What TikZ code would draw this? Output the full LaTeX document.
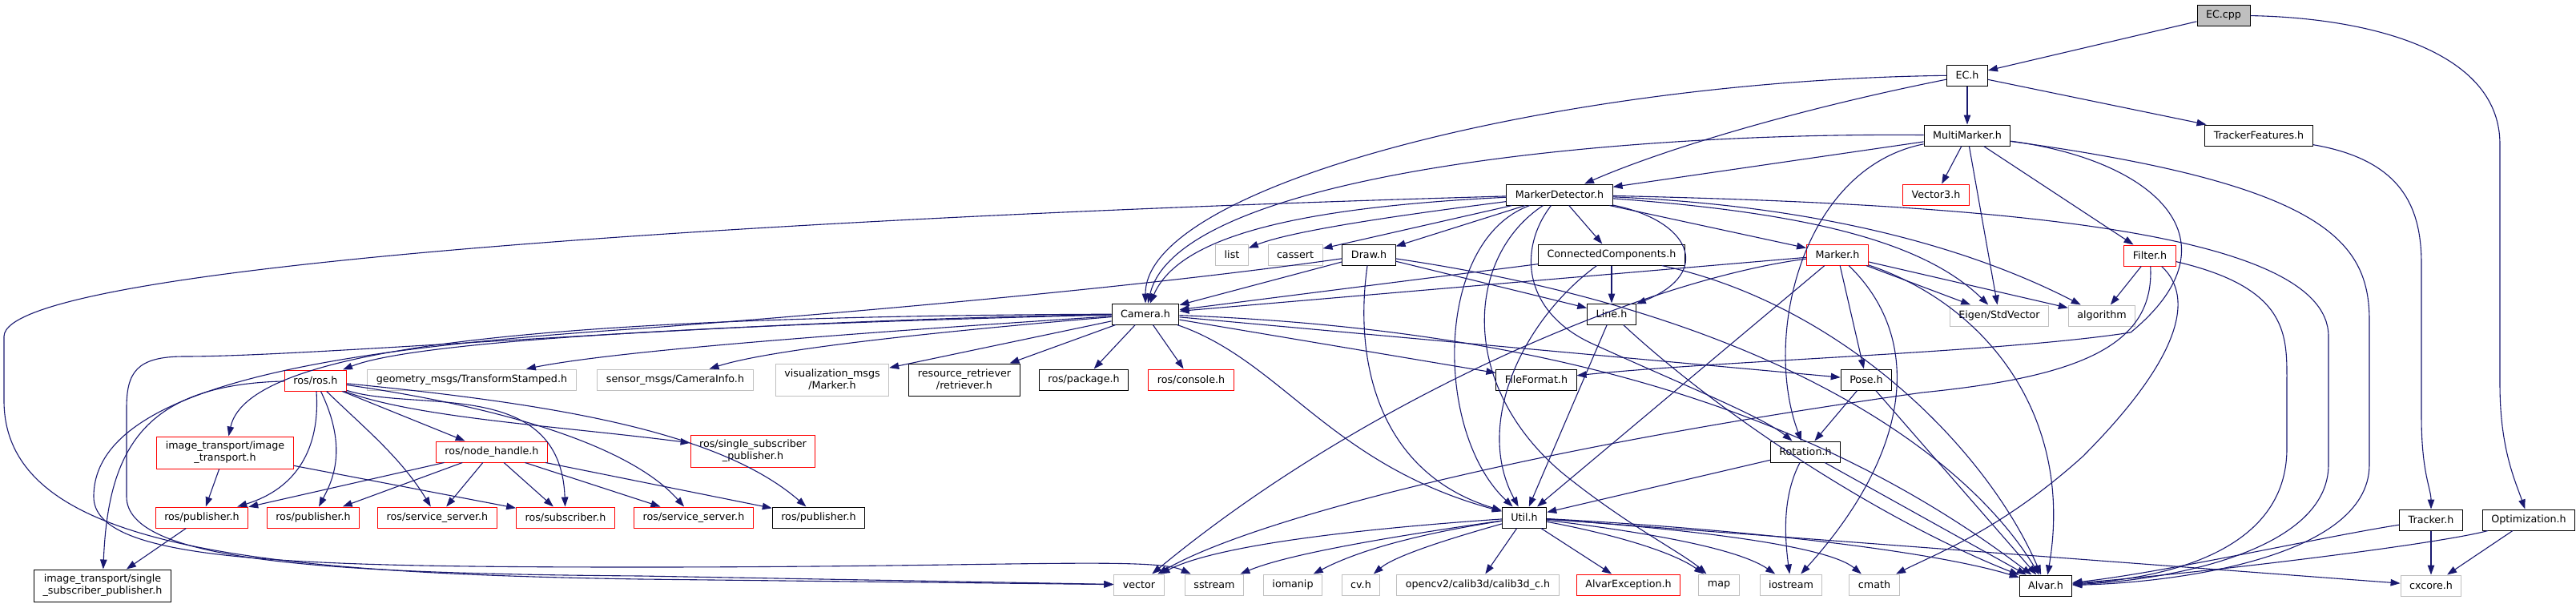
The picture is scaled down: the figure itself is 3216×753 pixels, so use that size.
\documentclass[tikz,border=0pt]{standalone}
\usepackage{fontspec}
\setmainfont{DejaVu Sans}
\usetikzlibrary{arrows.meta}
\definecolor{edgeblue}{HTML}{191970}
\definecolor{grey75}{HTML}{BFBFBF}
\newcommand{\hdrfont}{\fontsize{12.7}{15}\selectfont}

\begin{document}
\begin{tikzpicture}[x=1pt,y=-1pt,
  hdrbox/.style={draw=black,fill=white,line width=1pt,inner xsep=11pt,inner ysep=0pt,minimum height=26pt,font=\hdrfont},
  redbox/.style={hdrbox,draw=red},
  sysbox/.style={hdrbox,draw=grey75},
  twoline/.style={minimum height=40pt,align=center},
  dep/.style={draw=edgeblue,line width=1.1pt,-{Triangle[length=12pt,width=8.5pt]}}]

\useasboundingbox (0,0) rectangle (3216,753);

% files
\node[hdrbox,fill=grey75] (eccpp) at (2776,19) {EC.cpp};
\node[hdrbox] (ech) at (2456,94) {EC.h};
\node[hdrbox] (multimarker) at (2456,169) {MultiMarker.h};
\node[hdrbox] (trackerfeat) at (2820,169) {TrackerFeatures.h};
\node[hdrbox] (markerdet) at (1947,243) {MarkerDetector.h};
\node[redbox] (vector3) at (2417,243) {Vector3.h};
\node[sysbox] (list) at (1538,318) {list};
\node[sysbox] (cassert) at (1617,318) {cassert};
\node[hdrbox] (draw) at (1709,318) {Draw.h};
\node[hdrbox] (conncomp) at (2012,318) {ConnectedComponents.h};
\node[redbox] (marker) at (2294,318) {Marker.h};
\node[redbox] (filter) at (2684,319) {Filter.h};
\node[hdrbox] (camera) at (1430,392) {Camera.h};
\node[hdrbox] (line) at (2012,392) {Line.h};
\node[sysbox] (eigen) at (2496,394) {Eigen/StdVector};
\node[sysbox] (algorithm) at (2624,394) {algorithm};
\node[redbox] (rosros) at (394,475) {ros/ros.h};
\node[sysbox] (geometry) at (589,474) {geometry\_msgs/TransformStamped.h};
\node[sysbox] (sensor) at (843,474) {sensor\_msgs/CameraInfo.h};
\node[sysbox,twoline] (vismarker) at (1039,474) {visualization\_msgs\\/Marker.h};
\node[hdrbox,twoline] (retriever) at (1204,474) {resource\_retriever\\/retriever.h};
\node[hdrbox] (package) at (1353,474) {ros/package.h};
\node[redbox] (console) at (1487,474) {ros/console.h};
\node[hdrbox] (fileformat) at (1918,474) {FileFormat.h};
\node[hdrbox] (pose) at (2330,474) {Pose.h};
\node[redbox,twoline] (imgtransport) at (281,565) {image\_transport/image\\\_transport.h};
\node[redbox] (nodehandle) at (614,564) {ros/node\_handle.h};
\node[redbox,twoline] (singlesub) at (940,563) {ros/single\_subscriber\\\_publisher.h};
\node[hdrbox] (rotation) at (2254,564) {Rotation.h};
\node[redbox] (pubA) at (252,646) {ros/publisher.h};
\node[redbox] (pubB) at (391,646) {ros/publisher.h};
\node[redbox] (servA) at (546,646) {ros/service\_server.h};
\node[redbox] (subscriber) at (706,646) {ros/subscriber.h};
\node[redbox] (servB) at (866,646) {ros/service\_server.h};
\node[hdrbox] (pubC) at (1022,646) {ros/publisher.h};
\node[hdrbox] (util) at (1903,646) {Util.h};
\node[hdrbox] (tracker) at (3035,649) {Tracker.h};
\node[hdrbox] (optim) at (3157,649) {Optimization.h};
\node[hdrbox,twoline] (imgsingle) at (128,731) {image\_transport/single\\\_subscriber\_publisher.h};
\node[sysbox] (vector) at (1422,730) {vector};
\node[sysbox] (sstream) at (1516,730) {sstream};
\node[sysbox] (iomanip) at (1614,730) {iomanip};
\node[sysbox] (cvh) at (1699,730) {cv.h};
\node[sysbox] (calib) at (1845,730) {opencv2/calib3d/calib3d\_c.h};
\node[redbox] (alvarexc) at (2033,730) {AlvarException.h};
\node[sysbox] (map) at (2146,730) {map};
\node[sysbox] (iostream) at (2236,730) {iostream};
\node[sysbox] (cmath) at (2340,730) {cmath};
\node[hdrbox] (alvar) at (2554,731) {Alvar.h};
\node[sysbox] (cxcore) at (3035,731) {cxcore.h};

% includes
\draw[dep] (eccpp) -- (ech);
\draw[dep] (eccpp) .. controls (2950,22) and (3121,60) .. (3121,180) -- (3121,480) .. controls (3121,560) and (3140,600) .. (optim);
\draw[dep] (ech) -- (multimarker);
\draw[dep] (ech) -- (trackerfeat);
\draw[dep] (ech) .. controls (2250,135) and (2080,185) .. (markerdet);
\draw[dep] (ech) .. controls (1950,100) and (1430,230) .. (camera);
\draw[dep] (multimarker) -- (markerdet);
\draw[dep] (multimarker) .. controls (2000,165) and (1470,220) .. (camera);
\draw[dep] (multimarker) .. controls (2250,210) and (2200,420) .. (rotation);
\draw[dep] (multimarker) -- (vector3);
\draw[dep] (multimarker) -- (eigen);
\draw[dep] (multimarker) -- (filter);
\draw[dep] (multimarker) .. controls (2900,230) and (2958,300) .. (2958,400) -- (2958,580) .. controls (2958,700) and (2700,728) .. (alvar);
\draw[dep] (multimarker) .. controls (2690,200) and (2800,300) .. (2660,415) .. controls (2500,440) and (2150,450) .. (fileformat);
\draw[dep] (trackerfeat) .. controls (3000,200) and (3023,260) .. (3023,330) -- (3023,520) .. controls (3023,590) and (3035,610) .. (tracker);
\draw[dep] (markerdet) .. controls (1000,270) and (5,330) .. (5,420) -- (5,500) .. controls (5,680) and (300,715) .. (800,723) -- (vector);
\draw[dep] (markerdet) .. controls (1600,260) and (1470,300) .. (camera);
\draw[dep] (markerdet) .. controls (1800,262) and (1620,285) .. (list);
\draw[dep] (markerdet) -- (cassert);
\draw[dep] (markerdet) -- (draw);
\draw[dep] (markerdet) -- (conncomp);
\draw[dep] (markerdet) -- (marker);
\draw[dep] (markerdet) .. controls (2110,275) and (2140,340) .. (line);
\draw[dep] (markerdet) .. controls (1790,300) and (1790,540) .. (util);
\draw[dep] (markerdet) .. controls (1830,320) and (1820,480) .. (1950,590) .. controls (2030,655) and (2100,690) .. (map);
\draw[dep] (markerdet) .. controls (1895,310) and (1900,390) .. (1990,430) .. controls (2100,480) and (2200,520) .. (rotation);
\draw[dep] (markerdet) .. controls (2500,255) and (2907,290) .. (2907,420) -- (2907,580) .. controls (2907,690) and (2700,725) .. (alvar);
\draw[dep] (markerdet) .. controls (2250,265) and (2400,300) .. (eigen);
\draw[dep] (markerdet) .. controls (2300,258) and (2480,320) .. (algorithm);
\draw[dep] (conncomp) -- (camera);
\draw[dep] (conncomp) -- (line);
\draw[dep] (conncomp) .. controls (1900,400) and (1840,530) .. (util);
\draw[dep] (conncomp) .. controls (2300,380) and (2480,560) .. (alvar);
\draw[dep] (draw) -- (camera);
\draw[dep] (draw) -- (line);
\draw[dep] (draw) .. controls (1690,450) and (1720,590) .. (util);
\draw[dep] (draw) .. controls (2200,390) and (2450,560) .. (alvar);
\draw[dep] (draw) .. controls (1400,362) and (1000,395) .. (800,410) .. controls (420,435) and (117,480) .. (117,620) .. controls (117,700) and (350,708) .. (800,708) .. controls (1250,708) and (1440,695) .. (sstream);
\draw[dep] (marker) -- (camera);
\draw[dep] (marker) .. controls (2050,350) and (1700,500) .. (vector);
\draw[dep] (marker) -- (util);
\draw[dep] (marker) -- (pose);
\draw[dep] (marker) .. controls (2400,420) and (2390,560) .. (iostream);
\draw[dep] (marker) .. controls (2480,380) and (2590,520) .. (alvar);
\draw[dep] (marker) -- (eigen);
\draw[dep] (marker) -- (algorithm);
\draw[dep] (filter) -- (algorithm);
\draw[dep] (filter) .. controls (2860,360) and (2855,420) .. (2855,480) -- (2855,560) .. controls (2855,690) and (2700,722) .. (alvar);
\draw[dep] (filter) .. controls (2750,380) and (2700,470) .. (2600,570) .. controls (2500,660) and (2420,690) .. (cmath);
\draw[dep] (filter) .. controls (2690,430) and (2600,470) .. (2400,490) .. controls (1900,560) and (1560,650) .. (vector);
\draw[dep] (camera) .. controls (900,405) and (520,425) .. (rosros);
\draw[dep] (camera) .. controls (700,395) and (310,430) .. (imgtransport);
\draw[dep] (camera) .. controls (1000,420) and (760,440) .. (geometry);
\draw[dep] (camera) .. controls (1100,420) and (950,440) .. (sensor);
\draw[dep] (camera) -- (vismarker);
\draw[dep] (camera) -- (retriever);
\draw[dep] (camera) -- (package);
\draw[dep] (camera) -- (console);
\draw[dep] (camera) -- (fileformat);
\draw[dep] (camera) -- (pose);
\draw[dep] (camera) .. controls (1900,410) and (2250,500) .. (alvar);
\draw[dep] (camera) .. controls (1600,450) and (1660,580) .. (util);
\draw[dep] (camera) .. controls (900,400) and (400,445) .. (230,445) .. controls (170,445) and (158,465) .. (158,510) -- (158,620) .. controls (158,700) and (400,716) .. (800,719) -- (vector);
\draw[dep] (rosros) .. controls (180,480) and (135,560) .. (imgsingle);
\draw[dep] (rosros) .. controls (400,560) and (370,610) .. (pubA);
\draw[dep] (rosros) .. controls (435,560) and (415,600) .. (pubB);
\draw[dep] (rosros) .. controls (450,530) and (500,570) .. (servA);
\draw[dep] (rosros) -- (nodehandle);
\draw[dep] (rosros) .. controls (520,515) and (700,470) .. (subscriber);
\draw[dep] (rosros) .. controls (520,522) and (700,532) .. (singlesub);
\draw[dep] (rosros) .. controls (640,510) and (790,560) .. (servB);
\draw[dep] (rosros) .. controls (700,505) and (900,540) .. (pubC);
\draw[dep] (imgtransport) -- (pubA);
\draw[dep] (imgtransport) -- (subscriber);
\draw[dep] (pubA) -- (imgsingle);
\draw[dep] (nodehandle) -- (pubA);
\draw[dep] (nodehandle) -- (pubB);
\draw[dep] (nodehandle) -- (servA);
\draw[dep] (nodehandle) -- (subscriber);
\draw[dep] (nodehandle) -- (servB);
\draw[dep] (nodehandle) -- (pubC);
\draw[dep] (line) -- (util);
\draw[dep] (line) .. controls (2150,520) and (2350,650) .. (alvar);
\draw[dep] (pose) -- (rotation);
\draw[dep] (pose) -- (alvar);
\draw[dep] (rotation) -- (util);
\draw[dep] (rotation) .. controls (2225,620) and (2228,670) .. (iostream);
\draw[dep] (rotation) -- (alvar);
\draw[dep] (util) .. controls (1700,660) and (1520,680) .. (vector);
\draw[dep] (util) .. controls (1700,675) and (1600,695) .. (sstream);
\draw[dep] (util) .. controls (1760,668) and (1690,690) .. (iomanip);
\draw[dep] (util) .. controls (1800,675) and (1740,695) .. (cvh);
\draw[dep] (util) -- (calib);
\draw[dep] (util) -- (alvarexc);
\draw[dep] (util) .. controls (2020,668) and (2090,690) .. (map);
\draw[dep] (util) .. controls (2060,665) and (2170,685) .. (iostream);
\draw[dep] (util) .. controls (2100,660) and (2280,680) .. (cmath);
\draw[dep] (util) .. controls (2200,662) and (2420,690) .. (alvar);
\draw[dep] (util) -- (cxcore);
\draw[dep] (tracker) -- (cxcore);
\draw[dep] (tracker) .. controls (2900,670) and (2700,715) .. (alvar);
\draw[dep] (optim) -- (cxcore);
\draw[dep] (optim) .. controls (3040,680) and (2750,715) .. (alvar);

\end{tikzpicture}
\end{document}
